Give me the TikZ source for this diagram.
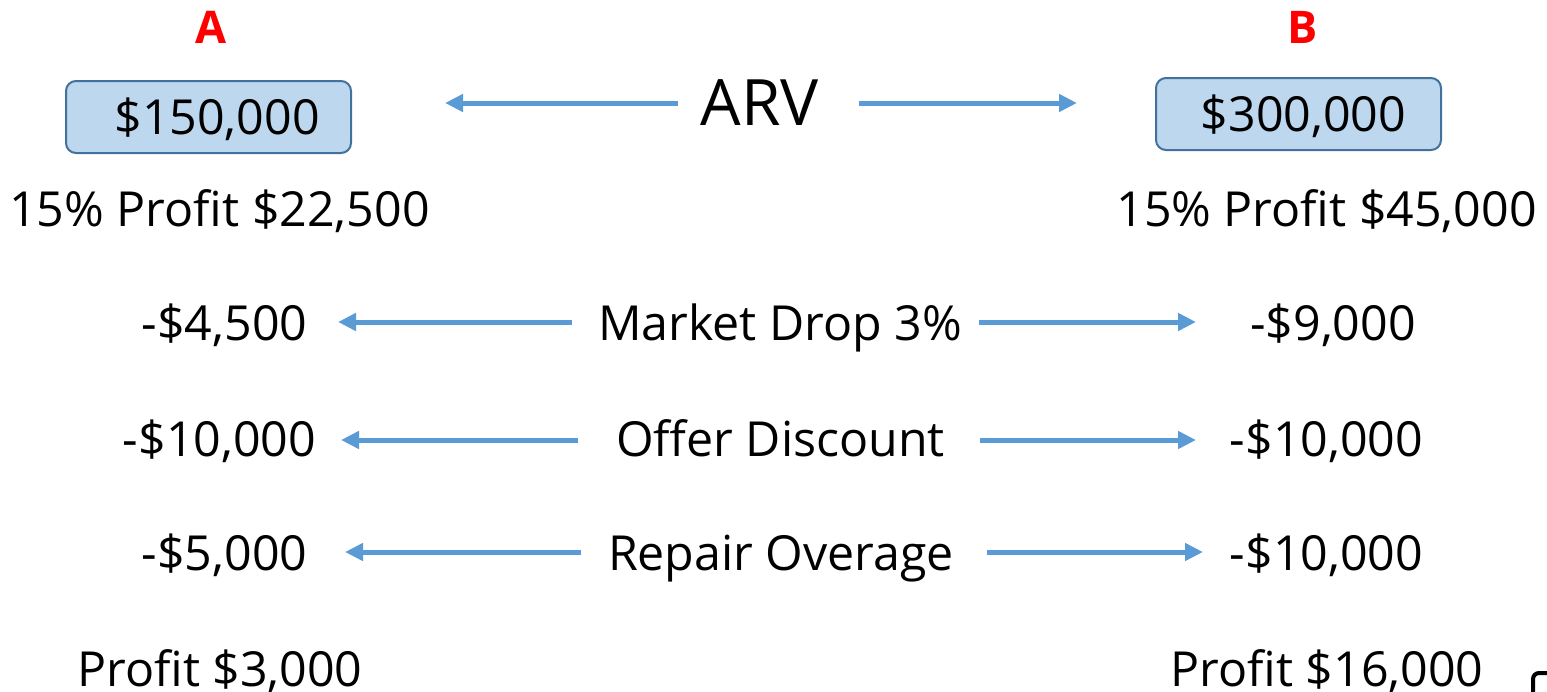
\documentclass[tikz,border=0pt]{standalone}
\usepackage{fontspec}
\setmainfont{Open Sans}
\usepackage{tikz}
\usetikzlibrary{%
	arrows.meta,positioning
}
\definecolor{arrowblue}{HTML}{5B9BD5}
\definecolor{boxfill}{HTML}{BDD7EE}
\definecolor{boxline}{HTML}{41719C}
\newcommand{\bigtxt}{\fontsize{48.3}{58}\selectfont}

\begin{document}
\begin{tikzpicture}[x=1pt,y=1pt,
    txt/.style={inner sep=0pt,anchor=base,font=\bigtxt},
    head/.style={inner sep=0pt,anchor=base,text=red,font=\fontsize{45}{54}\selectfont\bfseries},
    valbox/.style={draw=boxline,line width=2pt,fill=boxfill,rounded corners=10pt,
      minimum width=285pt,minimum height=72pt,inner sep=0pt,
      text height=34pt,text depth=0pt,font=\bigtxt},
    flow/.style={draw=arrowblue,line width=5pt,-{Triangle[length=18pt,width=17pt]}}]
    \useasboundingbox (0,0) rectangle (1547,-691);
    % headers
    \node[head] (hA) at (211,-43) {A};
    \node[head] (hB) at (1303,-43) {B};
    \node[valbox] (boxA) at (208.5,-117) {\hspace*{17pt}\$150,000};
    \node[valbox] (boxB) at (1298.5,-114) {\hspace*{10pt}\$300,000};
    \node[txt,font=\fontsize{64}{76}\selectfont] (arv) at (760,-125) {ARV};
    \node[txt] (profA) at (219.5,-226) {15\% Profit \$22,500};
    \node[txt] (profB) at (1326.5,-226) {15\% Profit \$45,000};
    % rows
    \node[txt] (mkt) at (780,-340) {Market Drop 3\%};
    \node[txt] (mktA) at (224.5,-340) {-\$4,500};
    \node[txt] (mktB) at (1333,-340) {-\$9,000};
    \node[txt] (off) at (780.5,-456) {Offer Discount};
    \node[txt] (offA) at (219.5,-456) {-\$10,000};
    \node[txt] (offB) at (1326.5,-456) {-\$10,000};
    \node[txt] (rep) at (781,-570) {Repair Overage};
    \node[txt] (repA) at (224.5,-570) {-\$5,000};
    \node[txt] (repB) at (1326.5,-570) {-\$10,000};
    \node[txt] (endA) at (220,-686) {Profit \$3,000};
    \node[txt] (endB) at (1327,-686) {Profit \$16,000};
    % arrow ends
    \coordinate (arvL) at (445,-103);
    \coordinate (arvR) at (1077,-103);
    \coordinate (mktL) at (338,-322);
    \coordinate (mktR) at (1196,-322);
    \coordinate (offL) at (341,-440);
    \coordinate (offR) at (1196,-440);
    \coordinate (repL) at (345,-552);
    \coordinate (repR) at (1203,-552);
    \draw[flow] (arv.west |- arvL) ++(-23,0) -- (arvL);
    \draw[flow] (arv.east |- arvR) ++(40,0) -- (arvR);
    \draw[flow] (mkt.west |- mktL) ++(-26,0) -- (mktL);
    \draw[flow] (mkt.east |- mktR) ++(17,0) -- (mktR);
    \draw[flow] (off.west |- offL) ++(-38,0) -- (offL);
    \draw[flow] (off.east |- offR) ++(35,0) -- (offR);
    \draw[flow] (rep.west |- repL) ++(-27,0) -- (repL);
    \draw[flow] (rep.east |- repR) ++(33,0) -- (repR);
    % cut off shape in the corner
    \draw[line width=4pt,rounded corners=6pt] (1533,-693) -- (1533,-673) -- (1550,-673);
\end{tikzpicture}
\end{document}
